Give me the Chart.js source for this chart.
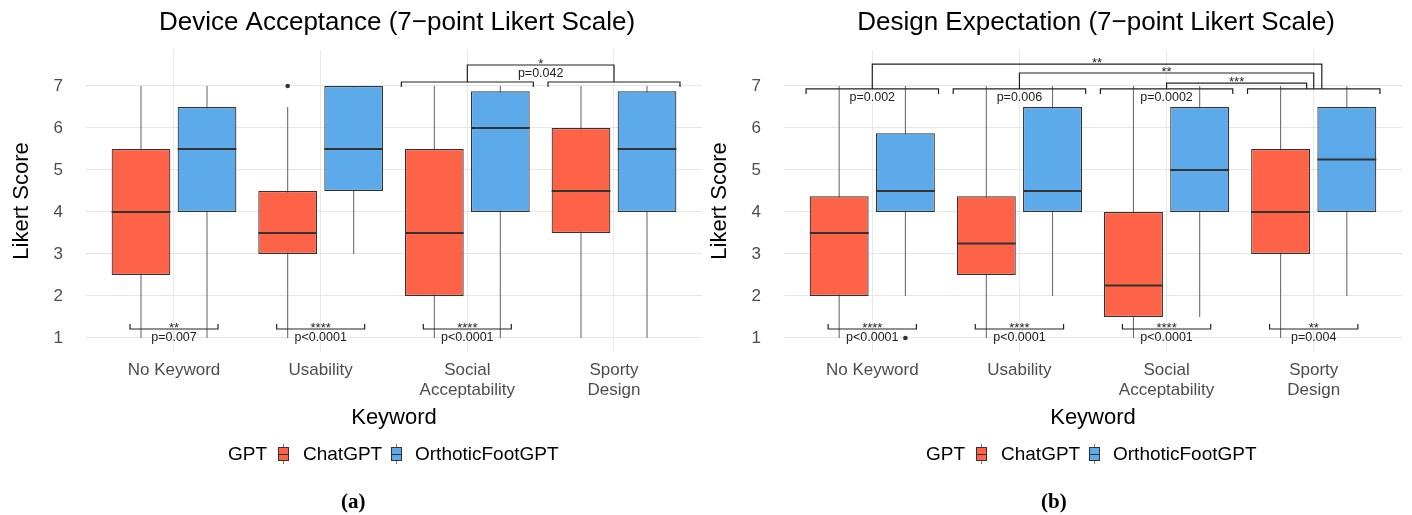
<!DOCTYPE html>
<html>
<head>
<meta charset="utf-8">
<script src="https://cdn.jsdelivr.net/npm/chart.js@4.4.1/dist/chart.umd.min.js"></script>
<style>
  body { margin: 0; background: #fff; width: 1412px; height: 515px; position: relative; overflow: hidden;
         font-family: "Liberation Sans", Arial, sans-serif; }
  .panel { position: absolute; top: 0; height: 515px; }
  .panel canvas { position: absolute; left: 0; top: 0; }
  .lg { position: absolute; top: 442px; font-size: 19px; line-height: 24px; color: #000; white-space: nowrap; }
  .key { position: absolute; top: 444px; width: 11px; height: 20px; }
  .key .w { position: absolute; left: 5px; width: 1px; top: 0; height: 20px; background: #777; }
  .key .b { position: absolute; left: 0; top: 3px; width: 9px; height: 12px; border: 1px solid #333; }
  .key .m { position: absolute; left: 0; top: 9.5px; width: 11px; height: 1px; background: #333; }
  .cap { position: absolute; top: 489px; font: bold 21px "Liberation Serif", "DejaVu Serif", serif; color: #000; }
</style>
</head>
<body>
<div class="panel" id="pa" style="left:0;width:704px">
  <canvas id="chartA" width="704" height="515"></canvas>
</div>
<div class="panel" id="pb" style="left:698px;width:706px">
  <canvas id="chartB" width="706" height="515"></canvas>
</div>

<script>
// categories and series
const categories = ['No Keyword', 'Usability', 'Social\nAcceptability', 'Sporty\nDesign'];
const seriesNames = ['ChatGPT', 'OrthoticFootGPT'];
const seriesColors = ['#FF6347', '#5DAAEB'];
const yTickLabels = [1, 2, 3, 4, 5, 6, 7];

// (a) Device Acceptance - ChatGPT
const accChatLow  = [1, 1, 1, 1];
const accChatQ1   = [2.5, 3, 2, 3.5];
const accChatMed  = [4, 3.5, 3.5, 4.5];
const accChatQ3   = [5.5, 4.5, 5.5, 6];
const accChatHigh = [7, 6.5, 7, 7];
const accChatOut  = [[], [7], [], []];
// (a) Device Acceptance - OrthoticFootGPT
const accOrthoLow  = [1, 3, 1, 1];
const accOrthoQ1   = [4, 4.5, 4, 4];
const accOrthoMed  = [5.5, 5.5, 6, 5.5];
const accOrthoQ3   = [6.5, 7, 6.875, 6.875];
const accOrthoHigh = [7, 7, 7, 7];
const accOrthoOut  = [[], [], [], []];
// (a) tests
const accBottomStars = ['**', '****', '****', null];
const accBottomP     = ['p=0.007', 'p<0.0001', 'p<0.0001', null];
const accTopP        = [null, null, '', ''];
const accCompare     = [{ from: 3, to: 4, stars: '*', p: 'p=0.042' }];

// (b) Design Expectation - ChatGPT
const desChatLow  = [1, 1, 1, 1];
const desChatQ1   = [2, 2.5, 1.5, 3];
const desChatMed  = [3.5, 3.25, 2.25, 4];
const desChatQ3   = [4.375, 4.375, 4, 5.5];
const desChatHigh = [7, 7, 7, 7];
const desChatOut  = [[], [], [], []];
// (b) Design Expectation - OrthoticFootGPT
const desOrthoLow  = [2, 2, 1.5, 2];
const desOrthoQ1   = [4, 4, 4, 4];
const desOrthoMed  = [4.5, 4.5, 5, 5.25];
const desOrthoQ3   = [5.875, 6.5, 6.5, 6.5];
const desOrthoHigh = [7, 7, 7, 7];
const desOrthoOut  = [[1], [], [], []];
// (b) tests
const desBottomStars = ['****', '****', '****', '**'];
const desBottomP     = ['p<0.0001', 'p<0.0001', 'p<0.0001', 'p=0.004'];
const desTopP        = ['p=0.002', 'p=0.006', 'p=0.0002', ''];
const desCompare     = [
  { from: 1, to: 4, stars: '**' },
  { from: 2, to: 4, stars: '**' },
  { from: 3, to: 4, stars: '***' }
];

const FONT = '"Liberation Sans", Arial, sans-serif';

// whiskers under the boxes, medians/outliers/brackets on top
const boxPlugin = {
  id: 'boxes',
  beforeDatasetsDraw(chart, args, opts) {
    const ctx = chart.ctx, ys = chart.scales.y;
    ctx.save();
    ctx.strokeStyle = '#6e6e6e';
    ctx.lineWidth = 1.1;
    opts.stats.forEach((s, d) => {
      chart.getDatasetMeta(d).data.forEach((bar, i) => {
        ctx.beginPath();
        ctx.moveTo(bar.x, ys.getPixelForValue(s.low[i]));
        ctx.lineTo(bar.x, ys.getPixelForValue(s.high[i]));
        ctx.stroke();
      });
    });
    ctx.restore();
  },
  afterDatasetsDraw(chart, args, opts) {
    const ctx = chart.ctx, ys = chart.scales.y, xs = chart.scales.x;
    ctx.save();
    // medians + outliers
    opts.stats.forEach((s, d) => {
      chart.getDatasetMeta(d).data.forEach((bar, i) => {
        const y = ys.getPixelForValue(s.med[i]);
        ctx.strokeStyle = '#333';
        ctx.lineWidth = 2;
        ctx.beginPath();
        ctx.moveTo(bar.x - bar.width / 2, y);
        ctx.lineTo(bar.x + bar.width / 2, y);
        ctx.stroke();
        ctx.fillStyle = '#333';
        s.out[i].forEach(v => {
          ctx.beginPath();
          ctx.arc(bar.x, ys.getPixelForValue(v), 2.3, 0, Math.PI * 2);
          ctx.fill();
        });
      });
    });

    ctx.strokeStyle = '#222';
    ctx.fillStyle = '#222';
    ctx.lineWidth = 1.2;
    const X = v => xs.getPixelForValue(v), Y = v => ys.getPixelForValue(v);
    const bracket = (x1, x2, y, yTip) => {
      ctx.beginPath();
      ctx.moveTo(x1, yTip); ctx.lineTo(x1, y); ctx.lineTo(x2, y); ctx.lineTo(x2, yTip);
      ctx.stroke();
    };
    const stars = (txt, x, y) => {
      ctx.font = '13px ' + FONT; ctx.textAlign = 'center'; ctx.textBaseline = 'alphabetic';
      ctx.fillText(txt, x, y + 3);
    };
    const ptext = (txt, x, y) => {
      ctx.font = '12.5px ' + FONT; ctx.textAlign = 'center'; ctx.textBaseline = 'middle';
      ctx.fillText(txt, x, y + 8.5);
    };

    // pairwise brackets at the bottom
    opts.bottomStars.forEach((st, i) => {
      if (st === null) return;
      const c = i + 1, y = Y(opts.bottomLevel);
      bracket(X(c - 0.3), X(c + 0.3), y, y - 5);
      stars(st, X(c), y);
      ptext(opts.bottomP[i], X(c), y);
    });
    // pair brackets at the top
    opts.topP.forEach((p, i) => {
      if (p === null) return;
      const c = i + 1, y = Y(opts.topLevel);
      bracket(X(c - 0.45), X(c + 0.45), y, y + 5);
      if (p) ptext(p, X(c), y);
    });
    // keyword comparisons
    opts.compare.forEach((cmp, k) => {
      const y = Y(opts.compareLevels[k]);
      const x1 = X(cmp.from), x2 = X(cmp.to + opts.compareShift[k]);
      bracket(x1, x2, y, Y(opts.topLevel));
      stars(cmp.stars, (x1 + x2) / 2, y);
      if (cmp.p) ptext(cmp.p, (x1 + x2) / 2, y);
    });

    // panel title, centred over the plot area
    const a = chart.chartArea;
    ctx.fillStyle = '#000';
    ctx.font = '26px ' + FONT;
    ctx.textAlign = 'center';
    ctx.textBaseline = 'middle';
    ctx.fillText(opts.title, (a.left + a.right) / 2 + 3, 23);
    ctx.restore();
  }
};

function makePanel(id, title, low, q1, med, q3, high, out, tests) {
  const datasets = seriesNames.map((name, d) => ({
    label: name,
    data: categories.map((c, i) => ({ x: i + 1, y: [q1[d][i], q3[d][i]] })),
    backgroundColor: seriesColors[d],
    borderColor: '#333',
    borderWidth: 1.2,
    borderSkipped: false,
    categoryPercentage: 0.9,
    barPercentage: 0.89
  }));
  const stats = seriesNames.map((n, d) => ({ low: low[d], med: med[d], high: high[d], out: out[d] }));

  return new Chart(document.getElementById(id), {
    type: 'bar',
    data: { datasets },
    plugins: [boxPlugin],
    options: {
      responsive: false,
      animation: false,
      layout: { padding: { left: 0, right: 2, top: 50, bottom: 83 } },
      plugins: {
        legend: { display: false },
        tooltip: { enabled: false },
        title: { display: false },
        boxes: Object.assign({ stats, title }, tests)
      },
      scales: {
        x: {
          type: 'linear', min: 0.4, max: 4.6, offset: false,
          afterBuildTicks: s => { s.ticks = categories.map((c, i) => ({ value: i + 1 })); },
          afterFit: s => { s.height = 80; },
          grid: { color: '#e9e9e9', lineWidth: 1.1, drawTicks: false, offset: false },
          border: { display: false },
          ticks: {
            autoSkip: false, maxRotation: 0, padding: 8, color: '#4d4d4d',
            font: { family: FONT, size: 17 },
            callback: v => categories[Math.round(v) - 1].split('\n')
          },
          title: { display: true, text: 'Keyword', color: '#000', font: { family: FONT, size: 22 }, padding: { top: 0, bottom: 1 } }
        },
        y: {
          min: 0.667, max: 7.857,
          afterBuildTicks: s => {
            const t = [];
            yTickLabels.forEach(v => { t.push({ value: v }); t.push({ value: v + 0.5 }); });
            s.ticks = t;
          },
          afterFit: s => { s.width = 86; },
          grid: {
            drawTicks: false,
            color: c => Number.isInteger(c.tick.value) ? '#e6e6e6' : '#f0f0f0',
            lineWidth: c => Number.isInteger(c.tick.value) ? 1.1 : 0.8
          },
          border: { display: false },
          ticks: {
            padding: 23, color: '#4d4d4d', font: { family: FONT, size: 17 },
            callback: v => Number.isInteger(v) ? String(v) : ''
          },
          title: { display: true, text: 'Likert Score', color: '#000', font: { family: FONT, size: 22 }, padding: { top: 8.8, bottom: 0 } }
        }
      }
    }
  });
}

makePanel('chartA', 'Device Acceptance (7\u2212point Likert Scale)',
  [accChatLow, accOrthoLow], [accChatQ1, accOrthoQ1], [accChatMed, accOrthoMed],
  [accChatQ3, accOrthoQ3], [accChatHigh, accOrthoHigh], [accChatOut, accOrthoOut],
  { bottomStars: accBottomStars, bottomP: accBottomP, bottomLevel: 1.214,
    topP: accTopP, topLevel: 7.095,
    compare: accCompare, compareLevels: [7.5], compareShift: [0] });

makePanel('chartB', 'Design Expectation (7\u2212point Likert Scale)',
  [desChatLow, desOrthoLow], [desChatQ1, desOrthoQ1], [desChatMed, desOrthoMed],
  [desChatQ3, desOrthoQ3], [desChatHigh, desOrthoHigh], [desChatOut, desOrthoOut],
  { bottomStars: desBottomStars, bottomP: desBottomP, bottomLevel: 1.214,
    topP: desTopP, topLevel: 6.93,
    compare: desCompare, compareLevels: [7.52, 7.31, 7.07], compareShift: [0.055, 0, -0.048] });

// legends and captions
['pa', 'pb'].forEach((pid, k) => {
  const p = document.getElementById(pid);
  const add = (html, left, cls) => {
    const el = document.createElement('div');
    el.className = cls; el.style.left = left + 'px'; el.innerHTML = html;
    p.appendChild(el);
  };
  const key = c => '<div class="w"></div><div class="b" style="background:' + c + '"></div><div class="m"></div>';
  add('GPT', 228, 'lg');
  add(key(seriesColors[0]), 278, 'key');
  add(seriesNames[0], 303, 'lg');
  add(key(seriesColors[1]), 391, 'key');
  add(seriesNames[1], 415, 'lg');
  add(k === 0 ? '(a)' : '(b)', k === 0 ? 341 : 343, 'cap');
});
</script>
</body>
</html>
